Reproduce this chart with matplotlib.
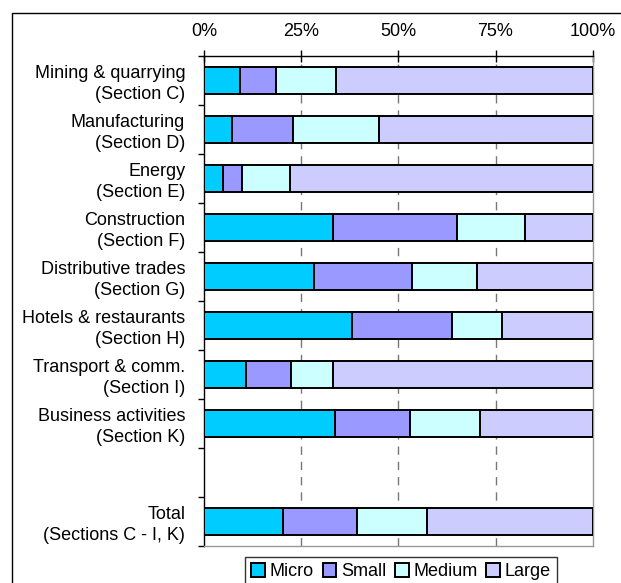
import matplotlib
matplotlib.use("Agg")
import matplotlib.pyplot as plt
import matplotlib.patches as mpatches
import numpy as np

plt.rcParams['font.family'] = ['Liberation Sans', 'DejaVu Sans']

categories = [
    "Mining & quarrying\n(Section C)",
    "Manufacturing\n(Section D)",
    "Energy\n(Section E)",
    "Construction\n(Section F)",
    "Distributive trades\n(Section G)",
    "Hotels & restaurants\n(Section H)",
    "Transport & comm.\n(Section I)",
    "Business activities\n(Section K)",
    "Total\n(Sections C - I, K)",
]
positions = [0, 1, 2, 3, 4, 5, 6, 7, 9]

micro  = [9.3, 7.1, 4.9, 33.3, 28.4, 38.0, 10.9, 33.7, 20.4]
small  = [9.1, 15.7, 4.9, 31.9, 25.2, 25.9, 11.5, 19.3, 19.0]
medium = [15.6, 22.3, 12.4, 17.3, 16.7, 12.7, 10.8, 18.0, 17.9]
large  = [66.0, 54.9, 77.8, 17.5, 29.7, 23.4, 66.8, 29.0, 42.7]

series_names = ["Micro", "Small", "Medium", "Large"]
colors = ["#00CCFF", "#9999FF", "#CCFFFF", "#CCCCFF"]
x_ticks = [0, 25, 50, 75, 100]
x_ticklabels = ["0%", "25%", "50%", "75%", "100%"]

W, H = 621, 583
fig = plt.figure(figsize=(W / 100, H / 100), dpi=100)
ax = fig.add_axes([204 / W, 1 - 546 / H, (592.7 - 204) / W, (546 - 55.7) / H])

data = [micro, small, medium, large]
left = np.zeros(len(positions))
handles = []
for vals, name, c in zip(data, series_names, colors):
    vals = np.array(vals)
    b = ax.barh(positions, vals, left=left, height=0.55, color=c,
                edgecolor="black", linewidth=1.4, label=name, zorder=3)
    handles.append(b)
    left = left + vals

ax.set_xlim(0, 100)
ax.set_ylim(9.5, -0.5)

for xv in [25, 50, 75]:
    ax.axvline(xv, color="#777777", lw=1, linestyle=(0, (6, 5)), zorder=1)

ax.xaxis.tick_top()
ax.set_xticks(x_ticks)
ax.set_xticklabels(x_ticklabels, fontsize=13)
ax.tick_params(axis="x", direction="inout", length=9, width=1, pad=6.5, colors="black")

ax.set_yticks(positions)
ax.set_yticklabels(categories, fontsize=13, linespacing=1.3)
ax.set_yticks(np.arange(-0.5, 10, 1), minor=True)
ax.tick_params(axis="y", which="major", length=0, pad=13.5)
ax.tick_params(axis="y", which="minor", length=4, width=1, direction="out")
for lbl in ax.get_yticklabels():
    lbl.set_horizontalalignment("right")

ax.spines["left"].set_color("black")
ax.spines["top"].set_color("black")
ax.spines["right"].set_color("#999999")
ax.spines["bottom"].set_color("#999999")
for s in ax.spines.values():
    s.set_linewidth(1)

leg = fig.legend(handles=handles, labels=series_names, ncol=4,
                 loc="upper center", bbox_to_anchor=(401 / W, 1 - 557 / H),
                 fontsize=13, frameon=True, fancybox=False, edgecolor="black",
                 handlelength=0.75, handleheight=0.75, handletextpad=0.25,
                 columnspacing=0.5, borderpad=0.35, borderaxespad=0)
leg.get_frame().set_linewidth(1)

border = mpatches.Rectangle((12 / W, -0.2), 1.5, (1 - 13 / H) + 0.2,
                            transform=fig.transFigure, fill=False,
                            edgecolor="black", linewidth=1)
fig.add_artist(border)

fig.savefig("out.png", dpi=100)
